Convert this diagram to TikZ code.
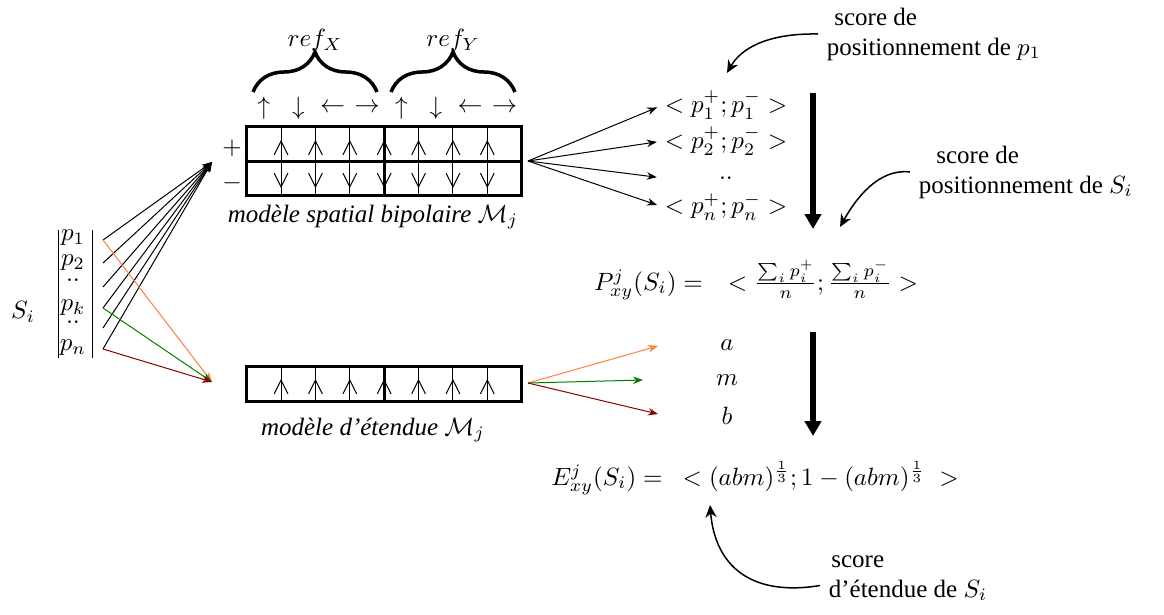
\documentclass[tikz,border=0pt]{standalone}
\usepackage{amsmath,amssymb}
\usepackage[no-math]{fontspec}
\setmainfont{Liberation Serif}
\usetikzlibrary{arrows.meta,decorations.pathreplacing,calc}
\definecolor{orangeln}{HTML}{FF8040}
\definecolor{greenln}{HTML}{008000}
\definecolor{redln}{HTML}{8B0000}

\begin{document}
\begin{tikzpicture}[x=0.4pt,y=-0.4pt,
  arrow/.style={-{Stealth[length=4pt,width=3pt]},thin},
  bigarrow/.style={-{Triangle[length=6pt,width=6.5pt]},line width=2.4pt},
  curvearrow/.style={-{Stealth[length=5pt,width=4.5pt]},semithick},
  note/.style={align=left,anchor=west},
  score/.style={inner sep=0.5pt},
  cell/.style={line width=1.2pt},
  chev/.style={-{Straight Barb[length=5.5pt,width=5.5pt]},thin},
  brc/.style={decorate,decoration={brace,amplitude=16pt},line width=1.4pt}]
\useasboundingbox (0,0) rectangle (1164,614);

% the point S_i and its parts
\node (si) at (23,312) {$S_i$};
\draw (58,230) -- (58,358) (92,230) -- (92,358);
\node (p1) at (73,238) {$p_1$};
\node (p2) at (73,263) {$p_2$};
\node (d1) at (73,280) {$..$};
\node (pk) at (73,308) {$p_k$};
\node (d2) at (73,322) {$..$};
\node (pn) at (73,348) {$p_n$};
\foreach \y [count=\k] in {240,263,287,308,328,349}
  \coordinate (s\k) at (103,\y);
\coordinate (in1) at (212,162);
\coordinate (in2) at (212,382);
\foreach \k in {1,...,6} \draw[arrow] (s\k) -- (in1);
\draw[arrow,orangeln] (s1) -- (in2);
\draw[arrow,greenln] (s4) -- (in2);
\draw[arrow,redln] (s6) -- (in2);

% bipolar spatial model
\draw[cell] (246.7,126) rectangle (521.7,195);
\draw[cell] (246.7,161) -- (521.7,161);
\foreach \i in {1,...,7} {
  \pgfmathsetmacro\xx{246.7+34.375*\i}
  \draw (\xx,126) -- (\xx,195);
  \draw[chev] (\xx,161) -- (\xx,140);
  \draw[chev] (\xx,161) -- (\xx,188);
}
\draw[cell] (384.2,126) -- (384.2,195);
\foreach \s [count=\i] in {\uparrow,\downarrow,\leftarrow,\rightarrow,\uparrow,\downarrow,\leftarrow,\rightarrow} {
  \pgfmathsetmacro\xx{246.7+34.375*\i-17.19}
  \node (c\i) at (\xx,108) {$\s$};
}
\draw[brc] (253,92) -- (377,92);
\draw[brc] (391,92) -- (515,92);
\node (rx) at (315,40) {$ref_X$};
\node (ry) at (453,40) {$ref_Y$};
\node (plus) at (232,148) {$+$};
\node (minus) at (232,183) {$-$};
\node (msp) at (373,217) {\itshape modèle spatial bipolaire $\mathcal{M}_j$};

% extent model
\draw[cell] (246.7,366) rectangle (521.7,401);
\foreach \i in {1,...,7} {
  \pgfmathsetmacro\xx{246.7+34.375*\i}
  \draw (\xx,366) -- (\xx,401);
  \draw[chev] (\xx,401) -- (\xx,379);
}
\draw[cell] (384.2,366) -- (384.2,401);
\node (met) at (373,430) {\itshape modèle d'étendue $\mathcal{M}_j$};

% positioning scores
\coordinate (sp) at (528,161);
\node[score] (q1) at (726,105) {$<p_1^+;p_1^->$};
\node[score] (q2) at (726,141) {$<p_2^+;p_2^->$};
\node[score] (q3) at (726,178) {$..$};
\node[score] (qn) at (726,207) {$<p_n^+;p_n^->$};
\draw[arrow,shorten >=2.5pt] (sp) -- (q1.west);
\draw[arrow,shorten >=2.5pt] (sp) -- (q2.west);
\draw[arrow,shorten >=2.5pt] (sp) -- (q1.west |- q3);
\draw[arrow,shorten >=2.5pt] (sp) -- (qn.west);
\coordinate (b1) at (813,93);
\coordinate (b2) at (813,229);
\draw[bigarrow] (b1) -- (b2);
\node (pf) at (756,280) {$P^j_{xy}(S_i) =\quad <\frac{\sum_i p_i^+}{n};\frac{\sum_i p_i^-}{n}>$};

% extent scores
\coordinate (et) at (528,383);
\coordinate (ea) at (658,346);
\coordinate (em) at (643,380);
\coordinate (eb) at (658,414);
\draw[arrow,orangeln] (et) -- (ea);
\draw[arrow,greenln] (et) -- (em);
\draw[arrow,redln] (et) -- (eb);
\node (la) at (727,345) {$a$};
\node (lm) at (727,380) {$m$};
\node (lb) at (727,416) {$b$};
\coordinate (b3) at (813,332);
\coordinate (b4) at (813,436);
\draw[bigarrow] (b3) -- (b4);
\node (ef) at (755,478) {$E^j_{xy}(S_i) =\hspace{8pt} <(abm)^{\frac{1}{3}};1-(abm)^{\frac{1}{3}}\;>$};

% annotations
\node[note] (n1) at (818,34) {\hspace*{3pt}score de\\positionnement de $p_1$};
\node[note] (n2) at (910,172) {\hspace*{7pt}score de\\positionnement de $S_i$};
\node[note] (n3) at (820,578) {\hspace*{1pt}score\\d'étendue de $S_i$};
\coordinate (t1) at (727,73);
\coordinate (t2) at (840,227);
\coordinate (t3) at (710,505);
\draw[curvearrow] (n1.west) .. controls (765,33) and (740,50) .. (t1);
\draw[curvearrow] (n2.west) .. controls (878,168) and (855,200) .. (t2);
\draw[curvearrow] ([yshift=-3pt]n3.west) .. controls (750,597) and (715,565) .. (t3);
\end{tikzpicture}
\end{document}
